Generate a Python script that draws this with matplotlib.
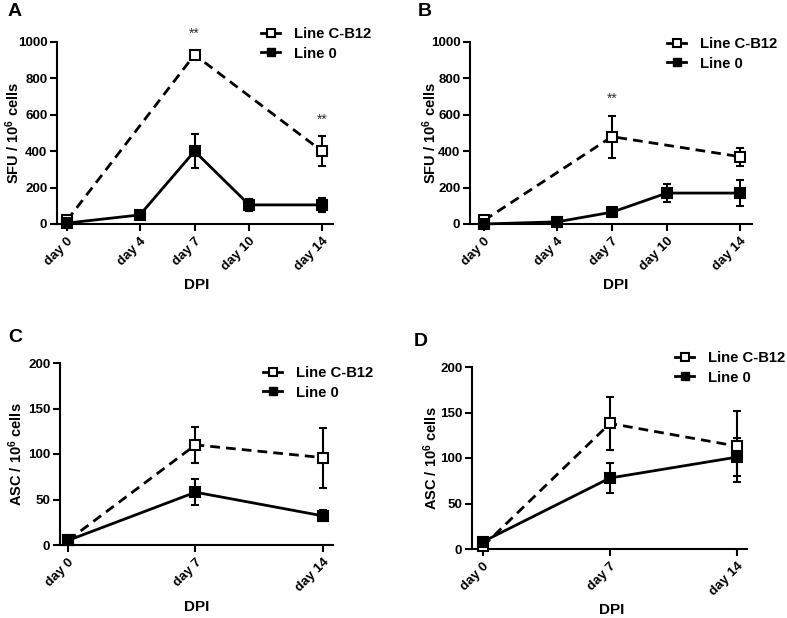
import matplotlib
matplotlib.use("Agg")
import matplotlib.pyplot as plt
from matplotlib.lines import Line2D

plt.rcParams['font.family'] = ['Liberation Sans', 'DejaVu Sans']
plt.rcParams['font.weight'] = 'bold'
plt.rcParams['mathtext.fontset'] = 'custom'
plt.rcParams['mathtext.rm'] = 'Liberation Sans:bold'
plt.rcParams['mathtext.bf'] = 'Liberation Sans:bold'
plt.rcParams['mathtext.it'] = 'Liberation Sans:bold'

# ---------------- data ----------------
days_ab = [0, 4, 7, 10, 14]
labels_ab = ["day 0", "day 4", "day 7", "day 10", "day 14"]
days_cd = [0, 7, 14]
labels_cd = ["day 0", "day 7", "day 14"]

# Panel A (SFU)
a_cb12_days = [0, 7, 14]
a_cb12 = [20, 930, 400]
a_cb12_err = [5, 15, 82]
a_line0 = [5, 50, 400, 105, 105]
a_line0_err = [3, 5, 95, 35, 40]

# Panel B (SFU)
b_cb12_days = [0, 7, 14]
b_cb12 = [20, 480, 370]
b_cb12_err = [5, 115, 50]
b_line0 = [0, 12, 65, 170, 170]
b_line0_err = [2, 5, 20, 50, 70]

# Panel C (ASC)
c_cb12 = [5, 110, 96]
c_cb12_err = [2, 20, 33]
c_line0 = [5, 58, 32]
c_line0_err = [2, 14, 6]

# Panel D (ASC)
d_cb12 = [3, 138, 113]
d_cb12_err = [2, 29, 39]
d_line0 = [8, 78, 101]
d_line0_err = [2, 16, 21]

sig_a = [(7, 1045), (14, 575)]
sig_b = [(7, 690)]

series_names = ["Line C-B12", "Line 0"]

# ---------------- figure ----------------
fig = plt.figure(figsize=(7.87, 6.18), dpi=100)
W, H = 787.0, 618.0

def ax_at(x0, x1, ytop, ybot):
    return fig.add_axes([x0 / W, 1 - ybot / H, (x1 - x0) / W, (ybot - ytop) / H])

LW = 2.0
MS = 6.5
DASH = (0, (3.5, 2.2))

def plot_series(ax, x, y, err, filled):
    ax.errorbar(x, y, yerr=err, fmt='none', ecolor='black', elinewidth=1.5,
                capsize=3.0, capthick=1.5, zorder=3, clip_on=False)
    ax.plot(x, y, color='black', lw=LW,
            linestyle='-' if filled else DASH,
            marker='s', ms=MS, mfc='black' if filled else 'white',
            mec='black', mew=1.5, zorder=4, clip_on=False)

def style_axis(ax, xlim, ylim, yticks, ticks, ticklabels):
    ax.set_xlim(*xlim)
    ax.set_ylim(*ylim)
    ax.set_yticks(yticks)
    ax.set_xticks(ticks)
    ax.set_xticklabels(ticklabels, rotation=45, ha='right', rotation_mode='anchor')
    for s in ['top', 'right']:
        ax.spines[s].set_visible(False)
    for s in ['left', 'bottom']:
        ax.spines[s].set_linewidth(1.5)
    ax.tick_params(axis='both', width=1.5, length=5, labelsize=9.6, pad=2)
    ax.tick_params(axis='x', pad=3)
    for t in ax.get_xticklabels() + ax.get_yticklabels():
        t.set_fontweight('bold')

def add_labels(xl, yl, ylabel, xd, yd):
    fig.text(xl / W, 1 - yl / H, ylabel, rotation=90, ha='center', va='center',
             fontsize=10.5, fontweight='bold')
    fig.text(xd / W, 1 - yd / H, "DPI", ha='center', va='center',
             fontsize=11, fontweight='bold')

def add_legend(ax, xh, y1):
    h1 = Line2D([], [], color='black', lw=LW, marker='s', ms=6, mfc='white', mec='black', mew=1.5)
    h2 = Line2D([], [], color='black', lw=LW, marker='s', ms=6, mfc='black', mec='black')
    ax.legend([h1, h2], series_names, loc='upper left',
              bbox_to_anchor=(xh / W, 1 - y1 / H + 0.009), bbox_transform=fig.transFigure,
              frameon=False, handlelength=1.3, handletextpad=0.9, labelspacing=0.35,
              prop={'family': 'Liberation Sans', 'weight': 'bold', 'size': 10.7},
              borderaxespad=0, borderpad=0)

sfu_label = r"SFU / 10$^{6}$ cells"
asc_label = r"ASC / 10$^{6}$ cells"

# Panel A
axA = ax_at(57, 333, 42, 224)
plot_series(axA, a_cb12_days, a_cb12, a_cb12_err, False)
plot_series(axA, days_ab, a_line0, a_line0_err, True)
style_axis(axA, (-0.55, 14.6), (0, 1000), [0, 200, 400, 600, 800, 1000], days_ab, labels_ab)
for xd, yv in sig_a:
    axA.text(xd, yv, "**", ha='center', va='center', fontsize=10, fontweight='normal', color='#333333')
add_legend(axA, 261, 33)
add_labels(13, 133, sfu_label, 197, 285)
fig.text(8 / W, 1 - 12 / H, "A", fontsize=14, fontweight='bold', va='center', ha='left')

# Panel B
axB = ax_at(470, 752, 42, 224)
plot_series(axB, b_cb12_days, b_cb12, b_cb12_err, False)
plot_series(axB, days_ab, b_line0, b_line0_err, True)
style_axis(axB, (-0.77, 14.66), (0, 1000), [0, 200, 400, 600, 800, 1000], days_ab, labels_ab)
for xd, yv in sig_b:
    axB.text(xd, yv, "**", ha='center', va='center', fontsize=10, fontweight='normal', color='#333333')
add_legend(axB, 667, 43)
add_labels(430, 133, sfu_label, 616, 285)
fig.text(418 / W, 1 - 12 / H, "B", fontsize=14, fontweight='bold', va='center', ha='left')

# Panel C
axC = ax_at(60, 333, 363, 545)
plot_series(axC, days_cd, c_cb12, c_cb12_err, False)
plot_series(axC, days_cd, c_line0, c_line0_err, True)
style_axis(axC, (-0.44, 14.55), (0, 200), [0, 50, 100, 150, 200], days_cd, labels_cd)
add_legend(axC, 263, 372)
add_labels(16, 454, asc_label, 197, 607)
fig.text(8 / W, 1 - 337 / H, "C", fontsize=14, fontweight='bold', va='center', ha='left')

# Panel D
axD = ax_at(472, 747, 367, 549)
plot_series(axD, days_cd, d_cb12, d_cb12_err, False)
plot_series(axD, days_cd, d_line0, d_line0_err, True)
style_axis(axD, (-0.6, 14.55), (0, 200), [0, 50, 100, 150, 200], days_cd, labels_cd)
add_legend(axD, 675, 357)
add_labels(431, 458, asc_label, 612, 610)
fig.text(414 / W, 1 - 341 / H, "D", fontsize=14, fontweight='bold', va='center', ha='left')

fig.savefig("out.png", dpi=100, facecolor='white')
